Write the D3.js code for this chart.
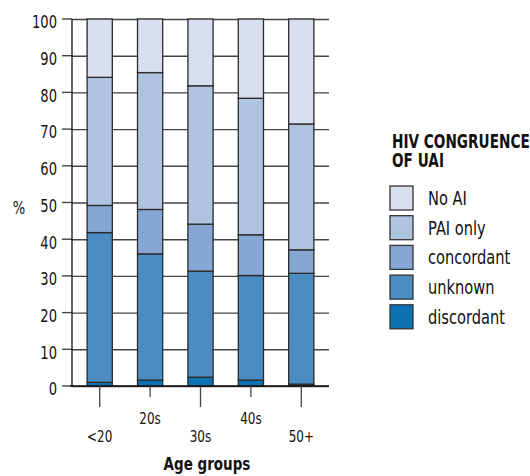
<!DOCTYPE html>
<html>
<head>
<meta charset="utf-8">
<script src="https://cdn.jsdelivr.net/npm/d3@7"></script>
<style>
  body { margin: 0; background: #fff; }
  svg text { font-family: "DejaVu Sans", sans-serif; fill: #111; }
</style>
</head>
<body>
<svg width="530" height="476"></svg>
<script>
// age groups along the bottom, two rows of labels
var ageGroups = ["<20", "20s", "30s", "40s", "50+"];
var seriesNames = ["discordant", "unknown", "concordant", "PAI only", "No AI"];
var colors = ["#0b72b4", "#4b8dc3", "#86a7d3", "#afc4e0", "#d9dfee"];

// percent values, bottom segment first
var discordant = [1.0, 1.6, 2.4, 1.6, 0.5];
var unknown    = [40.8, 34.4, 28.9, 28.5, 30.2];
var concordant = [7.4, 12.1, 12.8, 11.1, 6.4];
var paiOnly    = [34.9, 37.3, 37.7, 37.2, 34.3];
var noAI       = [15.9, 14.6, 18.2, 21.6, 28.6];

var yTicks = [0, 10, 20, 30, 40, 50, 60, 70, 80, 90, 100];

var table = ageGroups.map(function (a, i) {
    return {
        age: a,
        "discordant": discordant[i],
        "unknown": unknown[i],
        "concordant": concordant[i],
        "PAI only": paiOnly[i],
        "No AI": noAI[i]
    };
});

var svg = d3.select("svg");
var plotLeft = 72, plotRight = 329, plotTop = 19, plotBottom = 386;

// no condensed font installed, so squeeze text horizontally
function narrow(sx) {
    return function (sel) {
        sel.attr("transform", function (d, i) {
            var tx = +this.getAttribute("data-x"), ty = +this.getAttribute("data-y");
            return "translate(" + tx + "," + ty + ") scale(" + sx + ",1)";
        });
    };
}

var x = d3.scaleBand().domain(ageGroups).range([plotLeft, plotRight]).paddingInner(0.5).paddingOuter(0.3);
var y = d3.scaleLinear().domain([0, 100]).range([plotBottom, plotTop]);
var color = d3.scaleOrdinal().domain(seriesNames).range(colors);

// gridlines + y axis ticks
svg.append("g")
    .attr("transform", "translate(" + plotLeft + ",0)")
    .call(d3.axisLeft(y).tickValues(yTicks).tickSizeInner(-(plotRight - plotLeft)).tickSizeOuter(0).tickFormat(""))
    .call(function (g) {
        g.select(".domain").remove();
        g.selectAll(".tick line").attr("stroke", "#444").attr("stroke-width", 1.4);
    });

svg.append("g")
    .selectAll("line")
    .data(yTicks)
    .enter()
    .append("line")
    .attr("x1", plotLeft - 10).attr("x2", plotLeft)
    .attr("y1", function (d) { return y(d); })
    .attr("y2", function (d) { return y(d); })
    .attr("stroke", "#444").attr("stroke-width", 1.4);

svg.append("g")
    .selectAll("text")
    .data(yTicks)
    .enter()
    .append("text")
    .attr("data-x", 57)
    .attr("data-y", function (d) { return y(d) + 3; })
    .attr("dy", "0.36em")
    .attr("text-anchor", "end")
    .attr("font-size", "17.5px")
    .text(function (d) { return d; })
    .call(narrow(0.75));

svg.append("text")
    .attr("data-x", 19).attr("data-y", y(50) + 5)
    .attr("dy", "0.36em")
    .attr("text-anchor", "middle")
    .attr("font-size", "17.5px")
    .text("%")
    .call(narrow(0.75));

// stacked bars
var stack = d3.stack().keys(seriesNames);
var layers = stack(table);

svg.append("g")
    .selectAll("g")
    .data(layers)
    .enter()
    .append("g")
    .attr("fill", function (d) { return color(d.key); })
    .selectAll("rect")
    .data(function (d) { return d; })
    .enter()
    .append("rect")
    .attr("x", function (d) { return x(d.data.age); })
    .attr("width", x.bandwidth())
    .attr("y", function (d) { return y(d[1]); })
    .attr("height", function (d) { return y(d[0]) - y(d[1]); })
    .attr("stroke", "#2a2a2a")
    .attr("stroke-width", 1.3);

// y axis line and x axis line
svg.append("line")
    .attr("x1", plotLeft).attr("x2", plotLeft).attr("y1", plotTop).attr("y2", plotBottom)
    .attr("stroke", "#111").attr("stroke-width", 1.3);
svg.append("line")
    .attr("x1", plotLeft - 2).attr("x2", plotRight).attr("y1", plotBottom).attr("y2", plotBottom)
    .attr("stroke", "#111").attr("stroke-width", 1.5);

// x ticks, staggered
svg.append("g")
    .selectAll("line")
    .data(ageGroups)
    .enter()
    .append("line")
    .attr("x1", function (d) { return x(d) + x.bandwidth() / 2; })
    .attr("x2", function (d) { return x(d) + x.bandwidth() / 2; })
    .attr("y1", plotBottom)
    .attr("y2", function (d, i) { return i % 2 ? plotBottom + 11 : plotBottom + 21; })
    .attr("stroke", "#444").attr("stroke-width", 1.3);

svg.append("g")
    .selectAll("text")
    .data(ageGroups)
    .enter()
    .append("text")
    .attr("data-x", function (d) { return x(d) + x.bandwidth() / 2; })
    .attr("data-y", function (d, i) { return i % 2 ? 424 : 442; })
    .attr("text-anchor", "middle")
    .attr("font-size", "16px")
    .text(function (d) { return d; })
    .call(narrow(0.75));

svg.append("text")
    .attr("data-x", 207).attr("data-y", 470)
    .attr("text-anchor", "middle")
    .attr("font-size", "18px")
    .attr("font-weight", "bold")
    .text("Age groups")
    .call(narrow(0.75));

// legend
var legend = svg.append("g");
legend.append("text")
    .attr("data-x", 392).attr("data-y", 148)
    .attr("font-size", "19.5px").attr("font-weight", "bold")
    .text("HIV CONGRUENCE")
    .call(narrow(0.7));
legend.append("text")
    .attr("data-x", 392).attr("data-y", 167)
    .attr("font-size", "19.5px").attr("font-weight", "bold")
    .text("OF UAI")
    .call(narrow(0.7));

var legendKeys = seriesNames.slice().reverse();
var item = legend.selectAll(".item")
    .data(legendKeys)
    .enter()
    .append("g")
    .attr("transform", function (d, i) { return "translate(390," + (186 + i * 29.7) + ")"; });

item.append("rect")
    .attr("width", 23).attr("height", 24)
    .attr("fill", function (d) { return color(d); })
    .attr("stroke", "#333").attr("stroke-width", 1.3);

item.append("text")
    .attr("data-x", 38).attr("data-y", 19)
    .attr("font-size", "19.5px")
    .text(function (d) { return d; })
    .call(narrow(0.75));
</script>
</body>
</html>
